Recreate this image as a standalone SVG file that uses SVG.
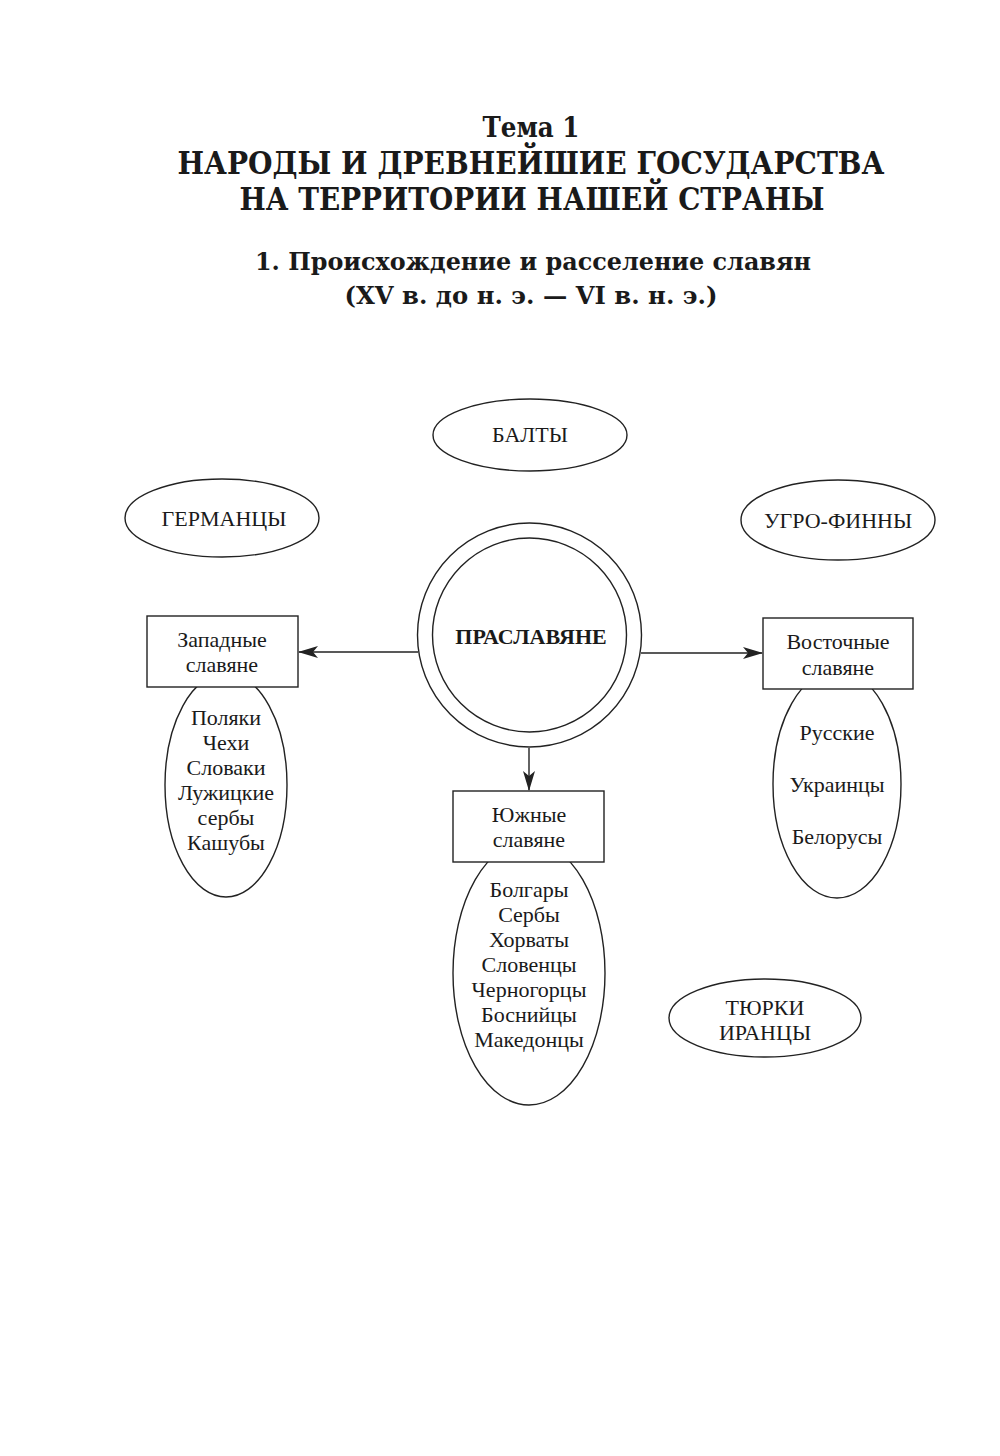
<svg xmlns="http://www.w3.org/2000/svg" width="1000" height="1456" viewBox="0 0 1000 1456">
<style>
.t{font-family:"DejaVu Serif","Liberation Serif",serif;font-weight:bold;fill:#1a1a1a;text-anchor:middle}
.l{font-family:"Liberation Serif","Times New Roman",serif;font-size:22px;fill:#1a1a1a;text-anchor:middle}
.s{fill:#fff;stroke:#222;stroke-width:1.4}
.c{stroke:#222;stroke-width:1.4;fill:none}
</style>
<defs>
<marker id="ah" markerWidth="20" markerHeight="12" refX="19" refY="6" orient="auto" markerUnits="userSpaceOnUse">
<path d="M0,0 L20,6 L0,12 L5,6 z" fill="#222"/>
</marker>
</defs>
<rect width="1000" height="1456" fill="#fff"/>
<g id="title">
<text class="t" x="531" y="137" font-size="28" textLength="97" lengthAdjust="spacingAndGlyphs">Тема 1</text>
<text class="t" x="531" y="174" font-size="31" textLength="707" lengthAdjust="spacingAndGlyphs">НАРОДЫ И ДРЕВНЕЙШИЕ ГОСУДАРСТВА</text>
<text class="t" x="532" y="210" font-size="31" textLength="585" lengthAdjust="spacingAndGlyphs">НА ТЕРРИТОРИИ НАШЕЙ СТРАНЫ</text>
<text class="t" x="533" y="270" font-size="24" textLength="556" lengthAdjust="spacingAndGlyphs">1. Происхождение и расселение славян</text>
<text class="t" x="531" y="304" font-size="24" textLength="373" lengthAdjust="spacingAndGlyphs">(XV в. до н. э. — VI в. н. э.)</text>
</g>
<g id="connectors">
<line class="c" x1="418" y1="652" x2="299" y2="652" marker-end="url(#ah)"/>
<line class="c" x1="641" y1="653" x2="762" y2="653" marker-end="url(#ah)"/>
<line class="c" x1="529" y1="748" x2="529" y2="790" marker-end="url(#ah)"/>
</g>
<g id="balty">
<ellipse class="s" cx="530" cy="435" rx="97" ry="36"/>
<text class="l" x="530" y="442">БАЛТЫ</text>
</g>
<g id="germantsy">
<ellipse class="s" cx="222" cy="518" rx="97" ry="39"/>
<text class="l" x="224" y="526">ГЕРМАНЦЫ</text>
</g>
<g id="ugro-finny">
<ellipse class="s" cx="838" cy="520" rx="97" ry="40"/>
<text class="l" x="838" y="528">УГРО-ФИННЫ</text>
</g>
<g id="praslavyane">
<circle class="s" cx="529.5" cy="635" r="112"/>
<circle class="s" cx="529.5" cy="635" r="97"/>
<text class="l" x="531" y="644" font-weight="bold" font-size="23">ПРАСЛАВЯНЕ</text>
</g>
<g id="west-list">
<ellipse class="s" cx="226" cy="785" rx="61" ry="112"/>
<text class="l" x="226" y="725">Поляки</text>
<text class="l" x="226" y="750">Чехи</text>
<text class="l" x="226" y="775">Словаки</text>
<text class="l" x="226" y="800">Лужицкие</text>
<text class="l" x="226" y="825">сербы</text>
<text class="l" x="226" y="850">Кашубы</text>
</g>
<g id="west">
<rect class="s" x="147" y="616" width="151" height="71"/>
<text class="l" x="222" y="647">Западные</text>
<text class="l" x="222" y="672">славяне</text>
</g>
<g id="east-list">
<ellipse class="s" cx="837" cy="784" rx="64" ry="114"/>
<text class="l" x="837" y="740">Русские</text>
<text class="l" x="837" y="792">Украинцы</text>
<text class="l" x="837" y="844">Белорусы</text>
</g>
<g id="east">
<rect class="s" x="763" y="618" width="150" height="71"/>
<text class="l" x="838" y="649">Восточные</text>
<text class="l" x="838" y="675">славяне</text>
</g>
<g id="south-list">
<ellipse class="s" cx="529" cy="973" rx="76" ry="132"/>
<text class="l" x="529" y="897">Болгары</text>
<text class="l" x="529" y="922">Сербы</text>
<text class="l" x="529" y="947">Хорваты</text>
<text class="l" x="529" y="972">Словенцы</text>
<text class="l" x="529" y="997">Черногорцы</text>
<text class="l" x="529" y="1022">Боснийцы</text>
<text class="l" x="529" y="1047">Македонцы</text>
</g>
<g id="south">
<rect class="s" x="453" y="791" width="151" height="71"/>
<text class="l" x="529" y="822">Южные</text>
<text class="l" x="529" y="847">славяне</text>
</g>
<g id="tyurki">
<ellipse class="s" cx="765" cy="1018" rx="96" ry="39"/>
<text class="l" x="765" y="1015">ТЮРКИ</text>
<text class="l" x="765" y="1040">ИРАНЦЫ</text>
</g>
</svg>
